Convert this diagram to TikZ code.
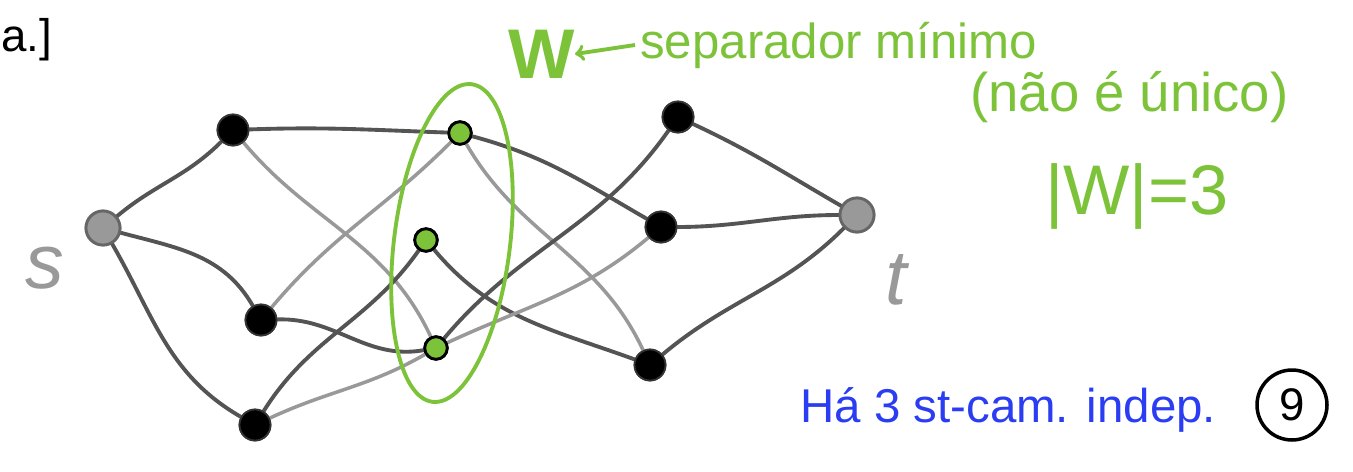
\documentclass[tikz,border=0pt]{standalone}
\usepackage{fontspec}
\setmainfont{Liberation Sans}
\begin{document}
\begin{tikzpicture}[x=0.02cm,y=-0.02cm,
  dk/.style={draw=black!67,line width=2.2pt,line cap=round},
  lt/.style={draw=black!40,line width=2pt,line cap=round},
  blk/.style={circle,fill=black,draw=black!80,line width=1pt,minimum size=0.62cm,inner sep=0pt},
  grn/.style={circle,fill=wgreen,draw=black,line width=1.6pt,minimum size=0.45cm,inner sep=0pt},
  gry/.style={circle,fill=black!40,draw=black!60,line width=1.6pt,minimum size=0.68cm,inner sep=0pt},
  gtxt/.style={text=wgreen,inner sep=0pt,anchor=west},
]
\definecolor{wgreen}{HTML}{7CC33A}
\definecolor{wblue}{HTML}{2B3DF2}
\useasboundingbox (0,0) rectangle (1353,471);
\fill[white] (0,0) rectangle (1353,471);

% nodes
\node[gry] (s) at (103,228) {};
\node[blk] (a) at (233,130) {};
\node[blk] (b) at (261,320) {};
\node[blk] (c) at (255,425) {};
\node[grn] (w1) at (460,133) {};
\node[grn] (w2) at (426,240) {};
\node[grn] (w3) at (436,348) {};
\node[blk] (d) at (678,117) {};
\node[blk] (e) at (661,227) {};
\node[blk] (f) at (650,365) {};
\node[gry] (t) at (857,215) {};

% edges
\draw[dk] (s) to[out=40,in=225] (a);
\draw[dk] (s) to[out=-15,in=120] (b);
\draw[dk] (s) to[out=-60,in=150] (c);
\draw[dk] (a) to[out=2,in=178] (w1);
\draw[lt] (a) to[out=-50,in=115] (w3);
\draw[lt] (b) to[out=50,in=225] (w1);
\draw[dk] (b) to[out=2,in=190] (w3);
\draw[dk] (c) to[out=58,in=235] (w2);
\draw[lt] (c) to[out=25,in=210] (w3);
\draw[dk] (w1) to[out=-15,in=150] (e);
\draw[lt] (w1) to[out=-60,in=115] (f);
\draw[dk] (w2) to[out=-50,in=160] (f);
\draw[dk] (w3) to[out=50,in=235] (d);
\draw[lt] (w3) to[out=25,in=220] (e);
\draw[dk] (d) to[out=-25,in=150] (t);
\draw[dk] (e) to[out=0,in=180] (t);
\draw[dk] (f) to[out=40,in=225] (t);

% nodes on top of the edges
\node[gry] at (s) {};
\node[blk] at (a) {};
\node[blk] at (b) {};
\node[blk] at (c) {};
\node[grn] at (w1) {};
\node[grn] at (w2) {};
\node[grn] at (w3) {};
\node[blk] at (d) {};
\node[blk] at (e) {};
\node[blk] at (f) {};
\node[gry] at (t) {};

% separator ellipse
\draw[wgreen,line width=2.2pt,rotate around={-7:(452,243)}] (452,243) ellipse [x radius=58, y radius=160];

% labels
\node[text=black!40,font=\fontsize{44}{44}\selectfont\itshape] (sl) at (45,268) {s};
\node[text=black!40,font=\fontsize{44}{44}\selectfont\itshape] (tl) at (896,280) {t};
\node[anchor=north west,inner sep=0pt,font=\fontsize{26}{26}\selectfont] (cap) at (1,18) {a.]};
\node[gtxt,font=\fontsize{40}{40}\selectfont\bfseries] (W) at (508,54) {W};
\node[gtxt,font=\fontsize{28}{28}\selectfont] (sep) at (640,45) {separador mínimo};
\draw[wgreen,line width=2.2pt,->] (635,45) -- (W.east);
\node[gtxt,font=\fontsize{31}{31}\selectfont] (nu) at (970,97) {(não é único)};
\node[gtxt,font=\fontsize{40}{40}\selectfont] (card) at (1045,196) {|W|=3};
\node[text=wblue,inner sep=0pt,anchor=west,font=\fontsize{27}{27}\selectfont] (ha) at (800,410) {Há 3 st-cam. indep.};
\node[circle,draw=black,line width=2pt,minimum size=1.4cm,inner sep=0pt,font=\fontsize{26}{26}\selectfont] (nine) at (1292,405) {9};
\end{tikzpicture}
\end{document}
